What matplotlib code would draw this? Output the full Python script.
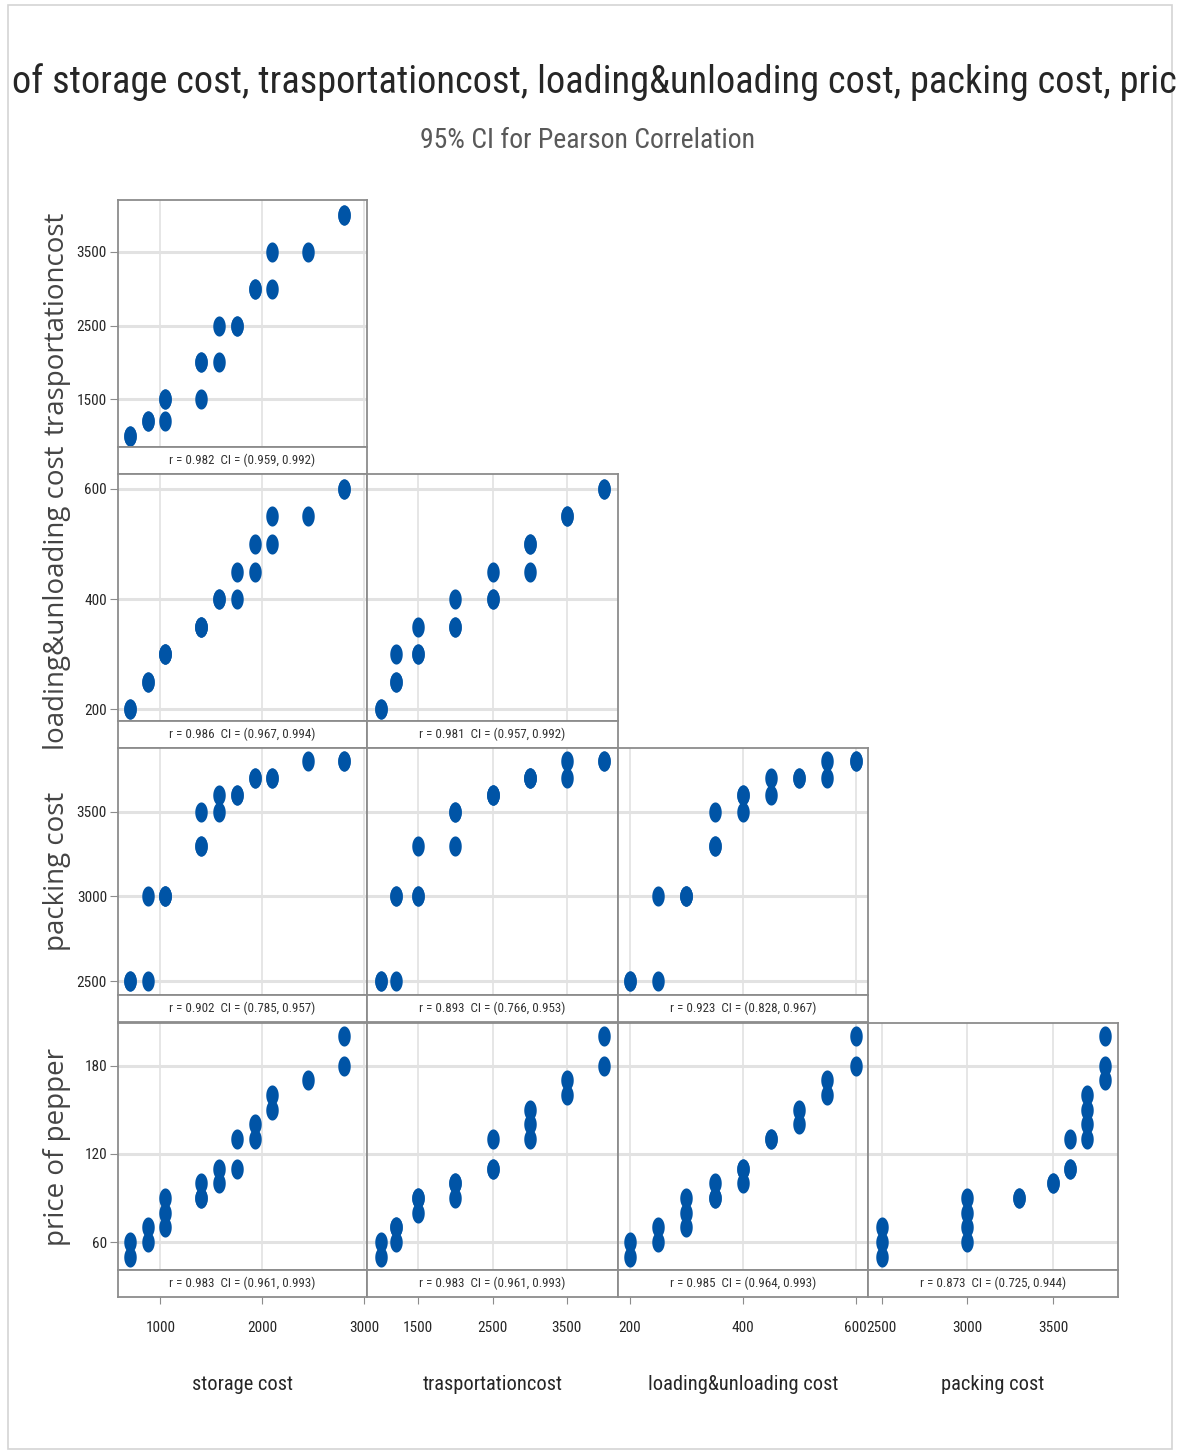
import matplotlib
matplotlib.use('Agg')
import matplotlib.pyplot as plt
from matplotlib import font_manager
from matplotlib.patches import Rectangle
import numpy as np

# data (21 distinct points)
storage = [700, 700, 875, 875, 1050, 1050, 1050, 1400, 1400, 1400, 1575,
           1575, 1750, 1750, 1925, 1925, 2100, 2100, 2450, 2800, 2800]
transport = [1000, 1000, 1200, 1200, 1200, 1500, 1500, 1500, 2000, 2000, 2000,
             2500, 2500, 2500, 3000, 3000, 3000, 3500, 3500, 4000, 4000]
loading = [200, 200, 250, 250, 300, 300, 300, 350, 350, 350, 400,
           400, 400, 450, 450, 500, 500, 550, 550, 600, 600]
packing = [2500, 2500, 2500, 3000, 3000, 3000, 3000, 3300, 3300, 3500, 3500,
           3600, 3600, 3600, 3700, 3700, 3700, 3700, 3800, 3800, 3800]
price = [50, 60, 70, 60, 70, 80, 90, 90, 90, 100, 100,
         110, 110, 130, 130, 140, 150, 160, 170, 180, 200]

names = ['storage cost', 'trasportationcost', 'loading&unloading cost',
         'packing cost', 'price of pepper']
columns = [storage, transport, loading, packing, price]
ticks = [[1000, 2000, 3000], [1500, 2500, 3500], [200, 400, 600],
         [2500, 3000, 3500], [60, 120, 180]]

# r and CI labels, per row (rows = transport, loading, packing, price)
r_vals = [['0.982'],
          ['0.986', '0.981'],
          ['0.902', '0.893', '0.923'],
          ['0.983', '0.983', '0.985', '0.873']]
ci_vals = [['(0.959, 0.992)'],
           ['(0.967, 0.994)', '(0.957, 0.992)'],
           ['(0.785, 0.957)', '(0.766, 0.953)', '(0.828, 0.967)'],
           ['(0.961, 0.993)', '(0.961, 0.993)', '(0.964, 0.993)', '(0.725, 0.944)']]

# the title runs past both edges in the reference; this is the part that shows
title = ('of storage cost, trasportationcost, loading&unloading cost, '
         'packing cost, pric')
subtitle = '95% CI for Pearson Correlation'

# axis ranges as drawn
xlims = [(584, 3028), (812, 4188), (179, 622), (2421, 3878)]
ylims = [None, (851, 4204), (179, 627), (2418, 3876), (41, 209)]

# pick a narrow, regular-weight font if one is installed
ttf = font_manager.fontManager.ttflist
fonts = {f.name for f in ttf}


def pick_narrow():
    for n in ['Liberation Sans Narrow', 'Noto Sans Condensed',
              'DejaVu Sans Condensed', 'Roboto Condensed']:
        if n in fonts:
            return n, 'normal'
    for fam in ['Noto Sans', 'DejaVu Sans', 'Roboto', 'Open Sans']:
        for f in ttf:
            if (f.name == fam and f.style == 'normal' and f.weight in (400, 'normal')
                    and str(f.stretch) in ('condensed', 'semi-condensed')):
                return fam, f.stretch
    for n in ['Open Sans Condensed Light', 'Open Sans Condensed']:
        if n in fonts:
            return n, 'normal'
    return 'DejaVu Sans', 'normal'


NARROW, STRETCH = pick_narrow()
plt.rcParams['font.family'] = NARROW
plt.rcParams['font.stretch'] = STRETCH
YFONT = 'Open Sans' if 'Open Sans' in fonts else 'DejaVu Sans'

BLUE = '#0054a6'
EDGE = '#8c8c8c'
GRID = '#e2e2e2'
TXT = '#262626'

W, H = 1188, 1452
fig = plt.figure(figsize=(W / 100, H / 100), dpi=100)
renderer = fig.canvas.get_renderer()


def box(x0, y0, x1, y1):
    return [x0 / W, 1 - y1 / H, (x1 - x0) / W, (y1 - y0) / H]


def size_for(s, width, family=None):
    t = fig.text(0, 0, s, fontsize=10, family=family or NARROW)
    w = t.get_window_extent(renderer).width
    t.remove()
    return 10 * width / w


tick_fs = size_for('3500', 30)
strip_fs = size_for('r = 0.982  CI = (0.959, 0.992)', 145)
xlab_fs = size_for('storage cost', 100)
sub_fs = size_for(subtitle, 335)
title_fs = size_for(title, 1158)
ylab_fs = size_for('loading&unloading cost', 305, YFONT)

# outer frame
fig.patches.append(Rectangle((8 / W, 1 - 1449 / H), 1164 / W, 1444 / H,
                             transform=fig.transFigure, fill=False,
                             ec='#d4d4d4', lw=1.2))

fig.text(12 / W, 1 - 82 / H, title, fontsize=title_fs, color=TXT,
         ha='left', va='center')
fig.text(588 / W, 1 - 141 / H, subtitle, fontsize=sub_fs, color='#595959',
         ha='center', va='center')

# elliptical dot (the plot is squeezed sideways)
ang = np.linspace(0, 2 * np.pi, 41)
dot = np.column_stack([0.62 * np.cos(ang), np.sin(ang)])

col_x = [118, 367, 618, 868, 1118]
row_top = [200, 474, 748, 1023]
PH, SH = 247, 27

for i in range(1, 5):
    y0 = row_top[i - 1]
    for j in range(i):
        x0, x1 = col_x[j], col_x[j + 1]
        ax = fig.add_axes(box(x0, y0, x1, y0 + PH))
        ax.set_axisbelow(True)
        ax.plot(columns[j], columns[i], ls='none', marker=dot, ms=14.5,
                mfc=BLUE, mec=BLUE, mew=0)
        ax.set_xlim(xlims[j])
        ax.set_ylim(ylims[i])
        ax.set_xticks(ticks[j])
        ax.set_yticks(ticks[i])
        ax.xaxis.grid(True, color=GRID, lw=1.2)
        ax.yaxis.grid(True, color=GRID, lw=2.2)
        ax.tick_params(bottom=False, labelbottom=False,
                       left=(j == 0), labelleft=(j == 0),
                       length=6, pad=2, color=EDGE, labelsize=tick_fs,
                       labelcolor=TXT)
        for s in ax.spines.values():
            s.set_color(EDGE)
            s.set_linewidth(1.3)

        sx = fig.add_axes(box(x0, y0 + PH, x1, y0 + PH + SH))
        sx.set_xlim(xlims[j])
        sx.set_yticks([])
        sx.text(0.5, 0.5, f'r = {r_vals[i-1][j]}  CI = {ci_vals[i-1][j]}',
                transform=sx.transAxes, ha='center', va='center',
                fontsize=strip_fs, color='#333333')
        for s in sx.spines.values():
            s.set_color(EDGE)
            s.set_linewidth(1.3)
        if i == 4:
            sx.set_xticks(ticks[j])
            sx.tick_params(axis='x', length=5, pad=12, color=EDGE,
                           labelsize=tick_fs, labelcolor=TXT)
            fig.text((x0 + x1) / 2 / W, 1 - 1385 / H, names[j],
                     fontsize=xlab_fs, color=TXT, ha='center', va='center')
        else:
            sx.set_xticks([])

    fig.text(57 / W, 1 - (y0 + PH / 2) / H, names[i], rotation=90,
             family=YFONT, fontsize=ylab_fs, color='#444444',
             ha='center', va='center')

fig.savefig('out.png', dpi=100)
